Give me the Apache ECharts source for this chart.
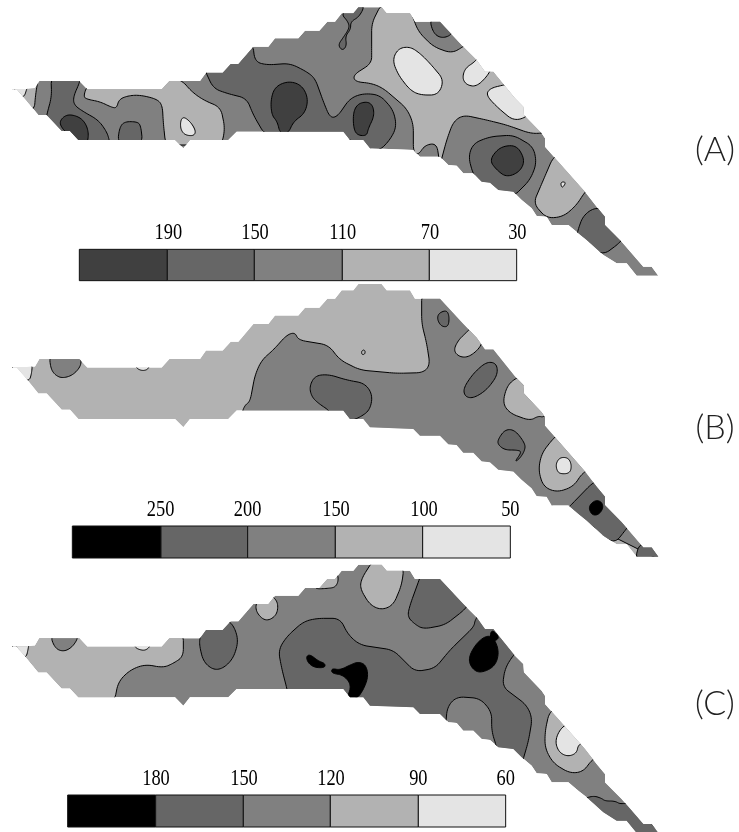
<!DOCTYPE html>
<html><head><meta charset="utf-8">
<style>html,body{margin:0;padding:0;background:#fff}#c{width:739px;height:832px}</style>
<script src="https://cdn.jsdelivr.net/npm/echarts@6/dist/echarts.min.js"></script>
</head><body><div id="c"></div>
<script>
const levelColors = ['#000000','#404040','#666666','#808080','#b2b2b2','#e4e4e4'];
const K=0,D=1,G=2,M=3,L=4,W=5;
const panelTop = [0,840,1665];
const panelNames = ['(A)','(B)','(C)'];
const panelNameX = [2145,2145,2145];
const panelNameY = [500,1336,2162];

const outline = [[36,267],[78,267],[105,265],[118,243],[238,243],[262,268],[485,268],[508,243],[600,243],[618,218],[668,218],[692,192],[715,192],[760,140],[805,140],[825,115],[895,115],[915,92],[958,92],[982,65],[1005,65],[1025,40],[1060,40],[1075,22],[1145,22],[1160,40],[1230,40],[1245,65],[1320,65],[1390,140],[1430,180],[1455,215],[1480,215],[1545,295],[1570,320],[1572,345],[1625,400],[1635,415],[1635,440],[1755,575],[1790,620],[1815,650],[1815,675],[1865,725],[1930,800],[1955,800],[1975,827],[1910,827],[1880,790],[1850,790],[1810,765],[1760,720],[1735,700],[1705,675],[1655,675],[1640,650],[1610,648],[1595,625],[1565,600],[1540,575],[1495,570],[1470,548],[1445,545],[1420,520],[1390,520],[1370,497],[1345,495],[1320,470],[1260,470],[1240,450],[1110,445],[1090,420],[1050,420],[1030,395],[710,395],[685,420],[570,420],[550,445],[525,420],[235,420],[210,393],[185,393],[140,345],[115,345],[78,300],[50,268],[36,268]];
const outlineScaleY = [1,1.016,1];
const outlineShiftY = [0,-10,7];

const baseLevel = [M,L,M];

const regionsA = [
 [L,[[0,200],[118,230],[112,250],[106,290],[103,330],[60,340],[0,300]]],
 [W,[[40,260],[82,260],[80,268],[72,292],[50,290]]],
 [G,[[153,230],[155,290],[140,345],[130,400],[200,440],[330,440],[328,420],[320,395],[295,360],[250,335],[222,315],[220,290],[240,245],[240,230]]],
 [D,[[178,368],[190,350],[210,343],[240,352],[258,372],[266,400],[262,430],[235,430],[205,400],[190,390]]],
 [L,[[262,255],[250,290],[262,298],[300,305],[335,322],[350,324],[357,298],[385,287],[420,285],[470,297],[487,315],[490,370],[497,435],[665,435],[675,385],[662,322],[610,300],[575,275],[545,240],[500,230],[400,250]]],
 [W,[[545,355],[555,352],[575,370],[588,395],[580,408],[555,405],[543,390],[541,370]]],
 [G,[[353,430],[358,385],[372,365],[410,365],[422,375],[428,430]]],
 [G,[[612,205],[640,265],[680,280],[740,295],[760,345],[795,405],[1030,410],[1090,440],[1135,455],[1170,420],[1190,380],[1180,330],[1140,285],[1090,280],[1050,295],[1012,350],[990,353],[972,310],[945,235],[920,215],[870,190],[800,195],[765,185],[758,130],[690,170]]],
 [D,[[812,300],[825,260],[865,243],[905,255],[925,295],[915,340],[880,365],[865,400],[840,400],[832,365],[815,345]]],
 [D,[[1060,335],[1075,310],[1105,305],[1120,320],[1122,350],[1105,385],[1100,408],[1070,405],[1060,380]]],
 [G,[[1095,15],[1078,50],[1052,65],[1052,88],[1036,108],[1040,138],[1027,152],[1014,135],[1030,112],[1048,85],[1045,66],[1022,40],[1060,20]]],
 [L,[[1145,10],[1115,70],[1115,150],[1115,190],[1060,225],[1065,245],[1115,250],[1150,265],[1220,325],[1240,370],[1240,455],[1255,465],[1275,435],[1310,430],[1320,495],[1340,420],[1360,365],[1390,345],[1460,360],[1520,375],[1590,400],[1625,400],[1680,390],[1500,170],[1400,130],[1390,140],[1355,160],[1300,140],[1255,95],[1238,50],[1230,25]]],
 [G,[[1288,55],[1300,100],[1325,115],[1355,105],[1365,75],[1330,50]]],
 [W,[[1177,180],[1195,145],[1230,140],[1260,160],[1290,190],[1332,240],[1315,285],[1260,285],[1230,270],[1195,225]]],
 [W,[[1425,185],[1395,205],[1387,235],[1400,255],[1430,260],[1465,225],[1480,190],[1440,165]]],
 [W,[[1510,255],[1470,265],[1458,285],[1490,320],[1540,362],[1580,352],[1600,320],[1540,250]]],
 [G,[[1420,525],[1405,470],[1420,430],[1470,410],[1540,405],[1600,440],[1610,490],[1590,540],[1540,590],[1470,590]]],
 [D,[[1468,480],[1500,440],[1550,435],[1575,480],[1560,515],[1520,532],[1490,510]]],
 [L,[[1660,470],[1630,540],[1600,610],[1640,655],[1690,650],[1730,615],[1755,575],[1790,540],[1700,450]]],
 [W,[[1681,546],[1699,546],[1686,566]]],
 [G,[[1790,620],[1750,645],[1732,695],[1730,720],[1810,765],[1860,728],[1880,700],[1830,640]]]
];

const regionsB = [
 [W,[[30,250],[97,250],[95,280],[87,305],[50,290]]],
 [M,[[148,225],[152,265],[165,285],[187,295],[220,285],[245,255],[240,225]]],
 [W,[[408,255],[410,265],[425,272],[440,270],[447,262],[447,255]]],
 [M,[[725,400],[735,375],[750,365],[765,285],[785,240],[820,210],[860,165],[885,157],[895,180],[985,195],[1020,240],[1080,270],[1190,280],[1270,278],[1290,255],[1280,190],[1265,130],[1265,40],[1350,40],[2000,850],[1300,500],[725,420]]],
 [L,[[1084,215],[1090,209],[1096,213],[1094,223],[1086,224]]],
 [G,[[928,320],[945,287],[985,283],[1040,300],[1095,310],[1118,345],[1110,390],[1080,412],[1045,425],[985,405],[990,393],[955,370],[935,350]]],
 [G,[[1315,100],[1340,90],[1348,110],[1345,140],[1325,140],[1312,120]]],
 [L,[[1402,155],[1375,180],[1360,212],[1380,232],[1410,230],[1445,198],[1450,160],[1415,140]]],
 [G,[[1390,325],[1420,280],[1460,245],[1490,250],[1493,285],[1460,330],[1420,355],[1395,350]]],
 [L,[[1545,295],[1520,320],[1508,370],[1530,400],[1590,422],[1615,408],[1630,412],[1650,395],[1590,280]]],
 [G,[[1493,480],[1515,448],[1545,450],[1575,490],[1575,510],[1560,535],[1543,547],[1566,515],[1550,510],[1515,510],[1495,495]]],
 [L,[[1660,475],[1625,520],[1615,570],[1630,620],[1670,637],[1720,620],[1750,575],[1790,560],[1690,450]]],
 [W,[[1668,550],[1680,532],[1705,533],[1715,555],[1710,580],[1680,582],[1670,570]]],
 [G,[[1778,608],[1708,680],[1690,700],[1845,790],[1878,748],[1900,720],[1815,590]]],
 [K,[[1765,680],[1785,660],[1805,665],[1810,685],[1795,705],[1775,705]]],
 [G,[[1918,790],[1905,840],[1990,850],[2000,780]]]
];

const regionsC = [
 [L,[[550,235],[550,305],[520,325],[490,338],[435,328],[390,345],[355,380],[343,440],[220,440],[100,360],[40,260],[100,235]]],
 [W,[[30,262],[87,262],[85,280],[78,310],[50,300]]],
 [M,[[150,240],[165,280],[190,290],[215,278],[233,252],[230,240]]],
 [W,[[403,265],[405,276],[415,283],[435,287],[450,275],[450,265]]],
 [G,[[600,245],[610,215],[685,195],[705,220],[715,260],[700,310],[670,340],[640,345],[610,320],[598,270]]],
 [L,[[768,140],[768,172],[797,200],[830,182],[835,145],[818,123],[800,115]]],
 [L,[[945,95],[950,102],[985,100],[1005,97],[1015,80],[1013,55],[980,55],[945,85]]],
 [L,[[1120,15],[1085,70],[1080,100],[1110,150],[1145,165],[1180,150],[1205,90],[1212,35],[1170,10]]],
 [G,[[863,410],[845,340],[835,285],[860,245],[910,200],[950,190],[1020,190],[1045,240],[1080,270],[1180,285],[1245,350],[1305,340],[1350,285],[1422,215],[1425,195],[1440,175],[1555,290],[1540,300],[1515,340],[1507,395],[1580,450],[1597,490],[1585,560],[1565,628],[1565,645],[1490,600],[1490,575],[1475,530],[1475,470],[1440,430],[1370,425],[1342,455],[1337,510],[1337,525],[1100,485],[863,425]]],
 [G,[[1262,62],[1230,150],[1222,185],[1245,208],[1270,222],[1335,210],[1395,163],[1410,140],[1335,50],[1262,50]]],
 [K,[[1455,243],[1480,245],[1498,290],[1485,335],[1440,355],[1415,340],[1405,310],[1425,270]]],
 [K,[[1473,220],[1502,250],[1470,262]]],
 [K,[[918,305],[930,298],[955,318],[975,325],[975,338],[945,338],[925,325]]],
 [K,[[995,340],[1020,345],[1050,330],[1075,320],[1098,330],[1105,365],[1090,405],[1070,432],[1040,432],[1055,390],[1030,360],[995,355]]],
 [L,[[1648,470],[1635,530],[1635,580],[1660,625],[1710,655],[1750,650],[1775,615],[1800,600],[1680,455]]],
 [W,[[1685,515],[1665,555],[1675,590],[1702,605],[1730,595],[1735,568],[1760,560],[1720,500]]],
 [G,[[1747,733],[1780,722],[1805,730],[1815,738],[1845,738],[1862,748],[1900,740],[2000,860],[1900,860]]]
];
const regionLists = [regionsA,regionsB,regionsC];

const barEdges = [[238,502,763,1027,1288,1550],[217,483,743,1006,1268,1531],[203,467,730,991,1255,1517]];
const barTop = [748,1578,2385];
const barBottom = [842,1674,2481];
const barLevels = [[D,G,M,L,W],[K,G,M,L,W],[K,G,M,L,W]];
const tickLabels = [['190','150','110','70','30'],['250','200','150','100','50'],['180','150','120','90','60']];
const tickX = [[505,765,1028,1290,1552],[482,743,1008,1272,1531],[468,732,993,1255,1517]];
const tickY = [734,1564,2370];

function chaikin(pts){
  let p=pts, cap=12;
  for(let it=0;it<3;it++){
    const o=[];
    for(let i=0;i<p.length;i++){
      const a=p[i],b=p[(i+1)%p.length];
      const d=Math.hypot(b[0]-a[0],b[1]-a[1])||1,t=Math.min(.25,cap/d);
      o.push([a[0]+t*(b[0]-a[0]),a[1]+t*(b[1]-a[1])],[b[0]-t*(b[0]-a[0]),b[1]-t*(b[1]-a[1])]);
    }
    p=o;cap/=2;
  }
  return p;
}
const outlines = [0,1,2].map(k=>outline.map(q=>[q[0],q[1]*outlineScaleY[k]+outlineShiftY[k]+panelTop[k]]));
const shapes=[];
[0,1,2].forEach(k=>{
  shapes.push({panel:k,level:baseLevel[k],pts:outlines[k],base:true});
  regionLists[k].forEach(r=>shapes.push({panel:k,level:r[0],pts:chaikin(r[1].map(q=>[q[0],q[1]+panelTop[k]]))}));
});
const cells=[];
barEdges.forEach((e,k)=>barLevels[k].forEach((lv,j)=>cells.push([e[j],barTop[k],e[j+1],barBottom[k],lv])));
const tickData=[];
tickLabels.forEach((row,k)=>row.forEach((t,j)=>tickData.push([tickX[k][j],tickY[k],t])));
const nameData=panelNames.map((t,k)=>[panelNameX[k],panelNameY[k],t]);

const chart=echarts.init(document.getElementById('c'),null,{renderer:'canvas'});
chart.setOption({
  animation:false,backgroundColor:'#fff',
  grid:{left:0,right:0,top:0,bottom:0,containLabel:false},
  xAxis:{type:'value',min:0,max:2217,show:false},
  yAxis:{type:'value',min:0,max:2496,inverse:true,show:false},
  series:[
   {type:'custom',coordinateSystem:'cartesian2d',clip:false,silent:true,
    data:shapes.map((s,i)=>[i]),encode:{x:0,y:0},
    renderItem(params,api){
      const s=shapes[api.value(0)];
      const pts=s.pts.map(q=>api.coord(q));
      const clip=outlines[s.panel].map(q=>api.coord(q));
      return {type:'polygon',shape:{points:pts},
        clipPath:{type:'polygon',shape:{points:clip}},
        style:{fill:levelColors[s.level],stroke:s.base?null:'#000',lineWidth:1}};
    }},
   {type:'custom',coordinateSystem:'cartesian2d',clip:false,silent:true,
    data:cells,encode:{x:0,y:1},
    renderItem(params,api){
      const a=api.coord([api.value(0),api.value(1)]),b=api.coord([api.value(2),api.value(3)]);
      return {type:'rect',shape:{x:a[0],y:a[1],width:b[0]-a[0],height:b[1]-a[1]},
        style:{fill:levelColors[api.value(4)],stroke:'#111',lineWidth:1}};
    }},
   {type:'custom',coordinateSystem:'cartesian2d',clip:false,silent:true,
    data:tickData,encode:{x:0,y:1},
    renderItem(params,api){
      const a=api.coord([api.value(0),api.value(1)]);
      return {type:'text',x:a[0],y:a[1],scaleX:.8,
        style:{text:tickData[params.dataIndex][2],fill:'#000',fontFamily:'Liberation Serif',fontSize:23,align:'center',verticalAlign:'bottom'}};
    }},
   {type:'custom',coordinateSystem:'cartesian2d',clip:false,silent:true,
    data:nameData,encode:{x:0,y:1},
    renderItem(params,api){
      const a=api.coord([api.value(0),api.value(1)]);
      return {type:'text',x:a[0],y:a[1],
        style:{text:nameData[params.dataIndex][2],fill:'#222',fontFamily:'Lato',fontSize:34,fontWeight:300,align:'center',verticalAlign:'bottom'}};
    }}
  ]
});
</script></body></html>
